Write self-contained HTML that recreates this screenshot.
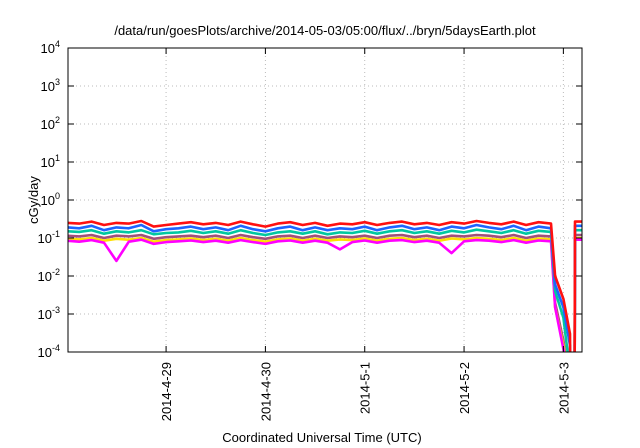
<!DOCTYPE html>
<html><head><meta charset="utf-8"><style>
body{margin:0;background:#fff;}
svg{display:block;font-family:"Liberation Sans",sans-serif;}
</style></head><body>
<svg id="chart" width="640" height="448">
<text x="325" y="35" text-anchor="middle" font-size="13">/data/run/goesPlots/archive/2014-05-03/05:00/flux/../bryn/5daysEarth.plot</text>
<text x="322" y="442" text-anchor="middle" font-size="13">Coordinated Universal Time (UTC)</text>
<text transform="translate(38,200) rotate(-90)" text-anchor="middle" font-size="13">cGy/day</text>
<defs><clipPath id="pc"><rect x="68" y="48" width="514" height="304"/></clipPath></defs>
<g id="grid"></g><g id="series" clip-path="url(#pc)"></g><g id="axes"></g>
</svg>
<script>
const times=[-24,-21,-18,-15,-12,-9,-6,-3,0,3,6,9,12,15,18,21,24,27,30,33,36,39,42,45,48,51,54,57,60,63,66,69,72,75,78,81,84,87,90,93,94,96,97.6,97.7,98.7,98.8,100.6];
const red=[.25,.24,.27,.22,.25,.24,.28,.20,.22,.24,.26,.23,.25,.22,.27,.23,.20,.24,.26,.22,.25,.21,.24,.23,.26,.22,.25,.27,.23,.25,.22,.26,.24,.28,.25,.23,.27,.22,.26,.24,.01,.0025,.0003,.00001,.00001,.27,.27];
const blue=[.19,.18,.21,.16,.19,.18,.22,.15,.17,.18,.20,.17,.19,.16,.21,.17,.15,.18,.20,.16,.19,.16,.18,.17,.20,.16,.19,.21,.17,.19,.16,.20,.18,.22,.19,.17,.21,.16,.20,.18,.006,.0015,.00015,.00001,.00001,.21,.21];
const teal=[.15,.145,.16,.13,.15,.14,.16,.125,.135,.14,.155,.135,.15,.13,.16,.135,.12,.14,.15,.13,.15,.125,.14,.135,.155,.13,.15,.16,.135,.15,.13,.155,.14,.165,.15,.135,.16,.13,.155,.145,.004,.0008,.00003,.00001,.00001,.16,.16];
const purple=[.115,.11,.12,.10,.115,.11,.12,.095,.105,.11,.115,.105,.115,.10,.12,.105,.095,.11,.115,.10,.115,.10,.11,.105,.115,.10,.115,.12,.105,.115,.10,.115,.11,.12,.115,.105,.12,.10,.115,.11,.002,.0002,.00001,.00001,.00001,.12,.12];
const yellow=[.095,.092,.1,.085,.095,.09,.1,.08,.088,.092,.097,.088,.095,.085,.1,.088,.08,.092,.097,.085,.095,.085,.092,.088,.097,.085,.095,.1,.088,.095,.085,.097,.092,.1,.095,.088,.1,.085,.097,.092,.0015,.00015,.00001,.00001,.00001,.1,.1];
const magenta=[.085,.08,.088,.075,.025,.08,.09,.07,.078,.082,.086,.078,.085,.075,.088,.078,.07,.082,.086,.075,.085,.075,.05,.078,.086,.075,.085,.088,.078,.085,.075,.04,.082,.088,.085,.078,.088,.075,.086,.082,.0015,.00012,.00001,.00001,.00001,.09,.09];
const seriesColors=["#a0507a","#ffe000","#ff00ff","#00c8a0","#1e64ff","#ff1010"];
const seriesList=[purple,yellow,magenta,teal,blue,red];
const seriesNames=["series-purple","series-yellow","series-magenta","series-teal","series-blue","series-red"];
const dayLabels=["2014-4-29","2014-4-30","2014-5-1","2014-5-2","2014-5-3"];
const dayHours=[0,24,48,72,96];
const yExps=[4,3,2,1,0,-1,-2,-3,-4];
const L=68,R=582,T=48,B=352,H0=-23.7,H1=100.5;
function xs(h){return L+(h-H0)/(H1-H0)*(R-L);}
function ys(v){return T+(4-Math.log10(v))/8*(B-T);}
const NS="http://www.w3.org/2000/svg";
function mk(tag,at,parent){const e=document.createElementNS(NS,tag);for(const k in at)e.setAttribute(k,at[k]);parent.appendChild(e);return e;}
const grid=document.getElementById('grid'),axes=document.getElementById('axes'),sg=document.getElementById('series');
yExps.forEach(ex=>{const y=ys(Math.pow(10,ex));
 if(ex<4&&ex>-4){const g=mk('line',{x1:L,x2:R,y1:y,y2:y,stroke:'#bbb','stroke-dasharray':'1,3'},grid);
 
 }
 mk('line',{x1:L,x2:L+6,y1:y,y2:y,stroke:'#000'},axes);mk('line',{x1:R,x2:R-6,y1:y,y2:y,stroke:'#000'},axes);
 const t=mk('text',{x:L-8,y:y+5,'text-anchor':'end','font-size':'13'},axes);
 
 
 t.textContent='10';const s=mk('tspan',{dy:-6,'font-size':'9'},t);s.textContent=String(ex);});
dayHours.forEach((h,i)=>{const x=xs(h);
 const g=mk('line',{x1:x,x2:x,y1:T,y2:B,stroke:'#bbb','stroke-dasharray':'1,3'},grid);
 
 
 mk('line',{x1:x,x2:x,y1:B,y2:B-6,stroke:'#000'},axes);mk('line',{x1:x,x2:x,y1:T,y2:T+6,stroke:'#000'},axes);
 const t=mk('text',{transform:`translate(${x+5},${B+10}) rotate(-90)`,'text-anchor':'end','font-size':'13'},axes);
 
 
 t.textContent=dayLabels[i];});
seriesList.forEach((arr,i)=>{const d=arr.map((v,j)=>(j?'L':'M')+xs(times[j]).toFixed(1)+','+ys(v).toFixed(1)).join('');
 const p=mk('path',{d:d,fill:'none',stroke:seriesColors[i],'stroke-width':'2.6','stroke-linejoin':'round'},sg);
 
 });
const fr=mk('rect',{x:L,y:T,width:R-L,height:B-T,fill:'none',stroke:'#000','stroke-width':'1'},axes);


</script>
</body></html>
